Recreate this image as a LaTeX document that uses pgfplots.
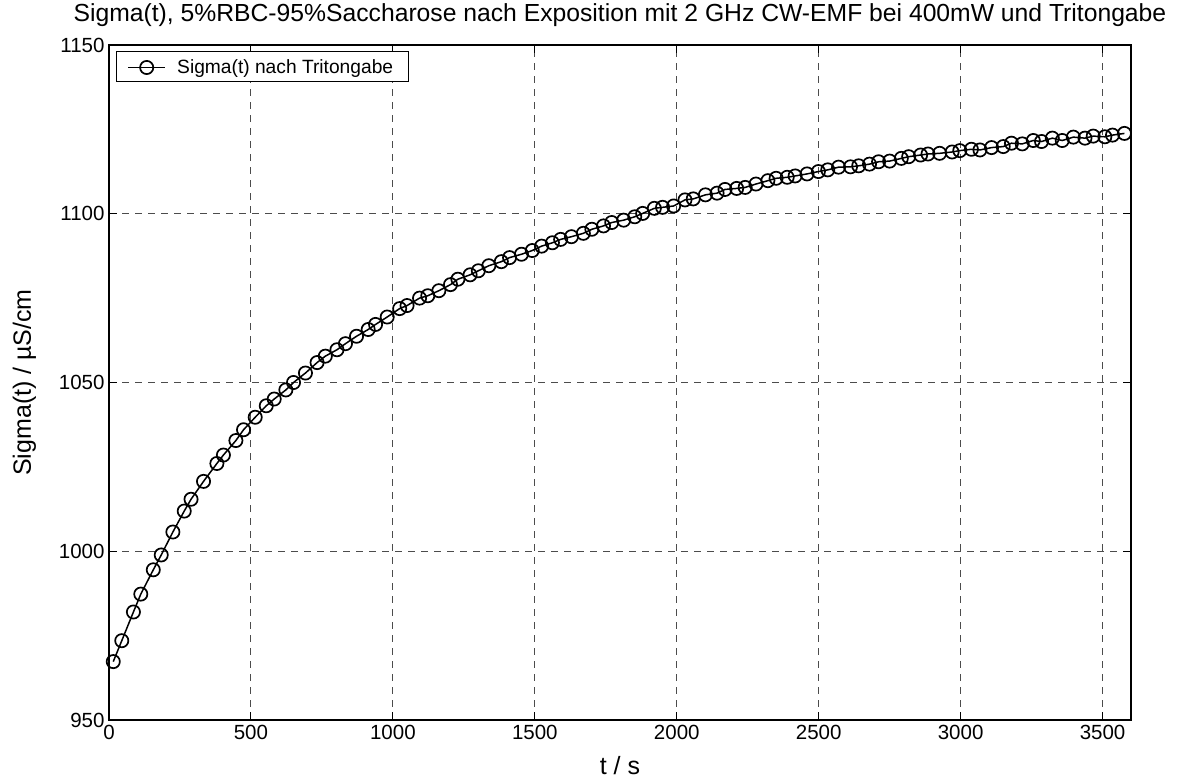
\documentclass[border=0pt]{standalone}
\usepackage{fontspec}
\setmainfont{Liberation Sans}
\usepackage{pgfplots}
\pgfplotsset{compat=1.18}

\begin{document}
\begin{tikzpicture}[x=1pt,y=1pt]
\useasboundingbox (0,0) rectangle (1180,778);
\begin{axis}[
  at={(109pt,58pt)}, anchor=south west,
  scale only axis, width=1022pt, height=675pt,
  xmin=0, xmax=3600, ymin=950, ymax=1150,
  xtick={0,500,...,3500}, ytick={950,1000,...,1150},
  /pgf/number format/assume math mode=true,
  /pgf/number format/1000 sep={},
  tick label style={font=\fontsize{20.5}{24}\selectfont},
  yticklabel style={xshift=-1pt},
  xticklabel style={yshift=-2pt},
  major tick length=8pt,
  tick style={black, line width=1pt},
  axis line style={black, line width=1.5pt},
  grid=major,
  major grid style={gray!60!black, line width=1pt, dash pattern=on 7pt off 6pt},
  title={Sigma(t), 5\%RBC-95\%Saccharose nach Exposition mit 2 GHz CW-EMF bei 400mW und Tritongabe},
  title style={font=\fontsize{24.7}{28}\selectfont, at={(0.5,1)}, anchor=base, yshift=17pt},
  xlabel={t / s},
  xlabel style={font=\fontsize{25}{30}\selectfont, at={(0.5,0)}, anchor=base, yshift=-55pt},
  ylabel={Sigma(t) / µS/cm},
  ylabel style={font=\fontsize{25}{30}\selectfont, at={(0,0.5)}, anchor=base, yshift=78pt},
  legend style={at={(rel axis cs:0.00685,0.96667)}, anchor=west,
    draw=none, fill=none, inner sep=0pt,
    column sep=0pt, nodes={inner sep=0pt},
    font=\fontsize{19.2}{23}\selectfont, cells={anchor=west}},
  legend image code/.code={
    \path[draw=none] (0pt,0pt) -- (61pt,0pt);
    \draw[#1, mark=none] (12pt,0pt) -- (49pt,0pt);
    \draw[#1, only marks] plot coordinates {(30.5pt,0pt)};
  },
]
\addplot[black, line width=1.5pt, mark=o, mark size=6.6pt,
  mark options={line width=1.7pt, solid}] coordinates {
(15,967.3) (45,973.5) (86,982.0) (112,987.3) (156,994.5) (184,998.9)
(225,1005.7) (265,1011.9) (289,1015.4) (333,1020.7) (380,1026.0) (403,1028.5)
(447,1032.8) (474,1036.0) (515,1039.7) (554,1043.1) (582,1045.1) (623,1047.8)
(650,1050.0) (692,1052.8) (733,1055.9) (762,1057.8) (803,1059.7) (833,1061.5)
(872,1063.7) (913,1065.7) (939,1067.2) (980,1069.4) (1024,1071.9) (1050,1072.8)
(1094,1075.0) (1123,1075.7) (1162,1077.2) (1203,1079.0) (1229,1080.6) (1272,1081.9)
(1301,1083.1) (1338,1084.6) (1382,1085.8) (1411,1087.0) (1453,1088.0) (1491,1089.1)
(1524,1090.4) (1562,1091.4) (1591,1092.4) (1629,1093.2) (1671,1094.2) (1701,1095.4)
(1742,1096.4) (1771,1097.4) (1813,1098.1) (1852,1099.1) (1880,1100.1) (1921,1101.6)
(1950,1101.9) (1989,1102.3) (2029,1104.1) (2058,1104.4) (2101,1105.6) (2142,1106.1)
(2170,1107.2) (2211,1107.5) (2241,1107.8) (2279,1108.8) (2321,1109.8) (2350,1110.5)
(2389,1110.8) (2417,1111.2) (2459,1111.8) (2499,1112.5) (2532,1113.0) (2570,1113.8)
(2612,1113.9) (2641,1114.2) (2679,1114.7) (2711,1115.4) (2750,1115.6) (2791,1116.4)
(2817,1116.9) (2859,1117.4) (2885,1117.7) (2926,1117.9) (2970,1118.3) (2997,1118.7)
(3038,1119.1) (3068,1118.9) (3109,1119.6) (3150,1119.9) (3179,1120.9) (3217,1120.7)
(3256,1121.7) (3285,1121.4) (3323,1122.4) (3358,1121.7) (3397,1122.7) (3438,1122.4)
(3467,1123.0) (3508,1122.8) (3535,1123.3) (3577,1123.8)
};
\addlegendentry{Sigma(t) nach Tritongabe}
% legend frame, white so the grid stays behind it
\draw[black, line width=1pt, fill=white]
  (rel axis cs:0.00685,0.94519) rectangle (rel axis cs:0.2926,0.98963);
\end{axis}
\end{tikzpicture}
\end{document}
